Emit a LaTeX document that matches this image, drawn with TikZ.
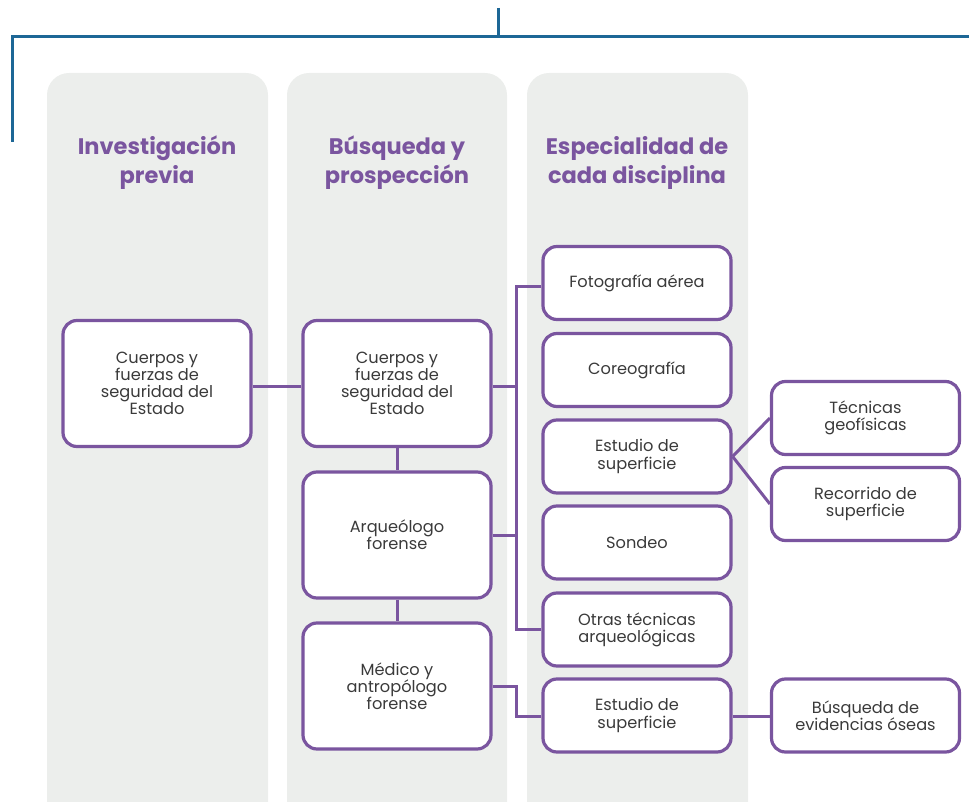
\documentclass[tikz,border=0pt]{standalone}
\usepackage{fontspec}
\setmainfont{Poppins}
\definecolor{purp}{HTML}{7A559F}
\definecolor{bluel}{HTML}{1D6796}
\definecolor{colgray}{HTML}{ECEEEC}
\definecolor{txt}{HTML}{3A3A3A}
\begin{document}
\begin{tikzpicture}[x=1pt,y=-1pt,
  column/.style={fill=colgray,rounded corners=22pt},
  title/.style={text=purp,font=\fontsize{22.5}{29}\selectfont\bfseries,align=center},
  box/.style={draw=purp,line width=3.2pt,rounded corners=14pt,fill=white,
    minimum width=188pt,align=center,inner sep=0pt,text=txt,
    font=\fontsize{16.2}{17.2}\selectfont},
  bigbox/.style={box,minimum height=126pt},
  smallbox/.style={box,minimum height=73pt},
  conn/.style={draw=purp,line width=3pt},
  trunk/.style={draw=bluel,line width=3pt}]
\useasboundingbox (0,0) rectangle (969,802);
\clip (0,0) rectangle (969,802);
% columns
\fill[column] (47,73) rectangle (268,830);
\fill[column] (287,73) rectangle (507,830);
\fill[column] (527,73) rectangle (748,830);
% blue trunk
\coordinate (t0) at (498,8);
\coordinate (t1) at (498,37);
\coordinate (tl) at (12,37);
\coordinate (tr) at (969,37);
\coordinate (tb) at (12,142);
\draw[trunk] (t0) -- (t1);
\draw[trunk] (tb) -- (tl) -- (tr);
% titles
\node[title] (h1) at (157,163) {Investigación\\previa};
\node[title] (h2) at (397,163) {Búsqueda y\\prospección};
\node[title] (h3) at (637,163) {Especialidad de\\cada disciplina};
% boxes
\node[bigbox] (a) at (157,383.5) {Cuerpos y\\fuerzas de\\seguridad del\\Estado};
\node[bigbox] (b1) at (397,383.5) {Cuerpos y\\fuerzas de\\seguridad del\\Estado};
\node[bigbox] (b2) at (397,535) {Arqueólogo\\forense};
\node[bigbox] (b3) at (397,686) {Médico y\\antropólogo\\forense};
\node[smallbox] (c1) at (637,283) {Fotografía aérea};
\node[smallbox] (c2) at (637,370) {Coreografía};
\node[smallbox] (c3) at (637,456.5) {Estudio de\\superficie};
\node[smallbox] (c4) at (637,542.5) {Sondeo};
\node[smallbox] (c5) at (637,629.5) {Otras técnicas\\arqueológicas};
\node[smallbox] (c6) at (637,715.5) {Estudio de\\superficie};
\node[smallbox] (d1) at (865.5,418) {Técnicas\\geofísicas};
\node[smallbox] (d2) at (865.5,504) {Recorrido de\\superficie};
\node[smallbox] (d3) at (865.5,715.5) {Búsqueda de\\evidencias óseas};
% connectors
\coordinate (bus1) at (516,287);
\coordinate (bus2) at (516,629);
\draw[conn] (a.east |- 0,386) -- (b1.west |- 0,386);
\draw[conn] (b1.east |- 0,386) -- (516,386);
\draw[conn] (b2.east |- 0,535) -- (516,535);
\draw[conn,line join=miter] (c1.west |- bus1) -- (bus1) -- (bus2) -- (c5.west |- bus2);
\draw[conn] (b1.south) -- (b2.north);
\draw[conn] (b2.south) -- (b3.north);
\draw[conn] (b3.east |- 0,686) -- (516,686) -- (516,716) -- (c6.west |- 0,716);
\draw[conn] (c6.east |- 0,716) -- (d3.west |- 0,716);
\draw[conn] (c3.east) -- (d1.west);
\draw[conn] (c3.east) -- (d2.west);
\end{tikzpicture}
\end{document}
